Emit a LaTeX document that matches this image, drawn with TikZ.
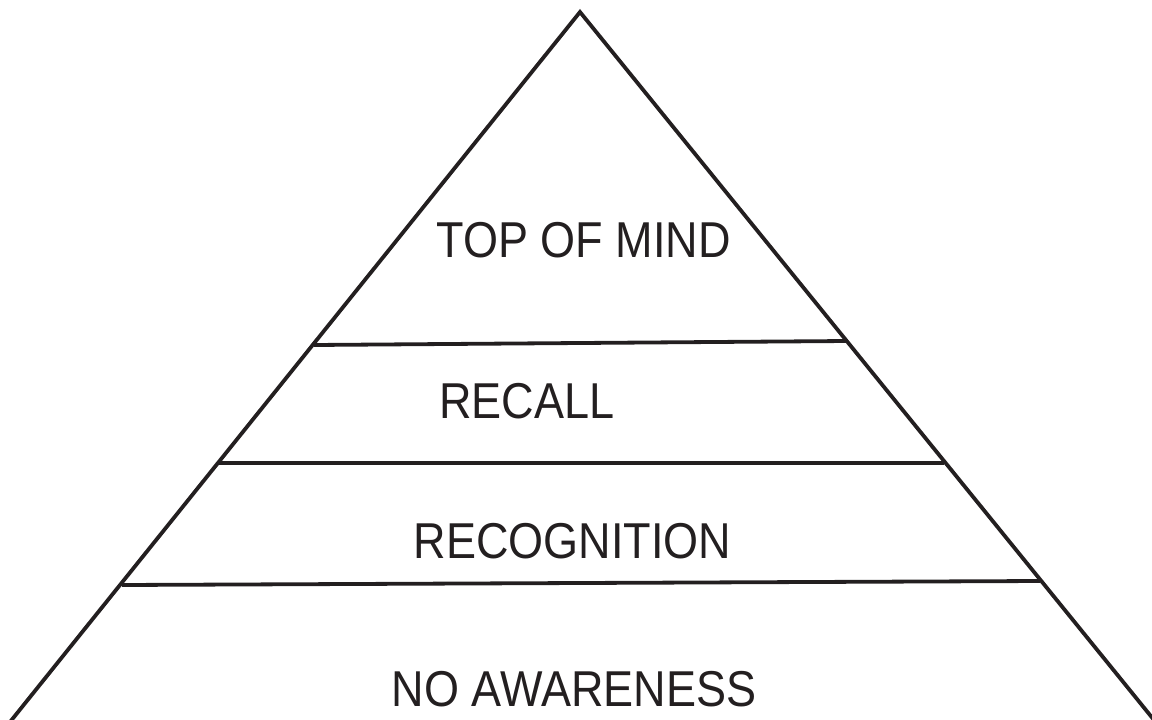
\documentclass[tikz,border=0pt]{standalone}
\usepackage{fontspec}
\setmainfont{Liberation Sans}
\definecolor{ink}{HTML}{231F20}
\newcommand{\tiertext}[1]{\scalebox{1}[1.12]{#1}}
\begin{document}
\begin{tikzpicture}[x=1pt,y=-1pt,
  edge/.style={draw=ink,line width=3.8pt,line join=miter},
  tier/.style={text=ink,font=\fontsize{45}{50}\selectfont,inner sep=0pt,anchor=base}]
\useasboundingbox (0,0) rectangle (1152,720);
% pyramid outline
\coordinate (apex) at (580,12);
\coordinate (bl) at (10,722);
\coordinate (br) at (1154,720);
\draw[edge] (bl) -- (apex) -- (br);
% tier dividers
\coordinate (d1l) at (314,345);
\coordinate (d1r) at (847,341);
\coordinate (d2l) at (219,463);
\coordinate (d2r) at (944,463);
\coordinate (d3l) at (122,585);
\coordinate (d3r) at (1040,581);
\draw[edge] (d1l) -- (d1r);
\draw[edge] (d2l) -- (d2r);
\draw[edge] (d3l) -- (d3r);
% tier labels
\node[tier] (top) at (583.5,257) {\tiertext{TOP OF MIND}};
\node[tier] (recall) at (527,418) {\tiertext{RECALL}};
\node[tier] (recog) at (572.5,558) {\tiertext{RECOGNITION}};
\node[tier] (none) at (574,706) {\tiertext{NO AWARENESS}};
\end{tikzpicture}
\end{document}
